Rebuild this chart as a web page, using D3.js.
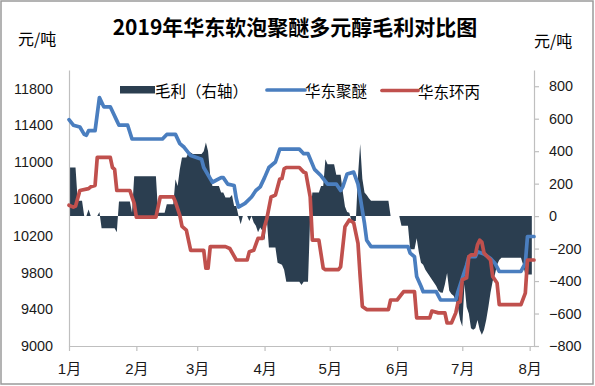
<!DOCTYPE html>
<html>
<head>
<meta charset="utf-8">
<script src="https://cdn.jsdelivr.net/npm/d3@7"></script>
<style>
  html, body { margin: 0; padding: 0; background: #fff; }
  svg { display: block; }
</style>
</head>
<body>
<div id="chart"></div>
<script>
// ---------------- data ----------------
const chartTitle = "2019年华东软泡聚醚多元醇毛利对比图";
const unitLabel = "元/吨";
const monthLabels = ["1月","2月","3月","4月","5月","6月","7月","8月"];
const monthStarts = ["01-01","02-01","03-01","04-01","05-01","06-01","07-01","08-01"];
const leftTicks = [9000, 9400, 9800, 10200, 10600, 11000, 11400, 11800];
const rightTicks = [-800, -600, -400, -200, 0, 200, 400, 600, 800];
const seriesNames = ["毛利（右轴）", "华东聚醚", "华东环丙"];

// 毛利 (right axis), [date, value]
const marginData = [
["01-01",300],["01-04",300],["01-05",95],["01-07",95],["01-08",0],["01-09",0],["01-10",40],["01-11",0],
["01-14",0],["01-15",25],["01-16",-75],["01-22",-75],["01-23",-100],["01-24",90],["01-29",90],["01-30",20],
["01-31",245],["02-10",245],["02-11",20],["02-14",20],["02-15",73],["02-18",73],["02-19",227],["02-20",186],
["02-21",289],["02-22",361],["02-24",361],["02-25",392],["02-26",392],["02-27",382],["03-03",382],["03-04",400],
["03-05",454],["03-06",400],["03-07",248],["03-08",186],["03-11",186],["03-12",145],["03-13",145],["03-14",114],
["03-16",114],["03-17",130],["03-18",63],["03-19",63],["03-20",0],["03-21",-50],["03-22",0],["03-24",0],
["03-25",-30],["03-26",0],["03-27",-40],["03-28",-60],["03-29",-100],["03-30",-70],["03-31",-90],["04-01",-150],
["04-02",-10],["04-03",-194],["04-06",-194],["04-07",-287],["04-09",-300],["04-10",-330],["04-11",-404],["04-17",-404],
["04-18",-425],["04-19",-404],["04-21",-404],["04-22",0],["04-23",145],["04-26",145],["04-27",186],["04-28",186],
["04-29",350],["04-30",320],["05-03",320],["05-04",255],["05-06",255],["05-07",150],["05-08",60],["05-09",25],
["05-10",20],["05-11",-30],["05-13",-30],["05-14",248],["05-15",444],["05-16",230],["05-17",145],["05-18",130],
["05-19",110],["05-20",94],["05-28",94],["05-29",0],["06-02",0],["06-03",-60],["06-06",-60],["06-07",-204],
["06-09",-204],["06-10",-136],["06-11",-222],["06-12",-287],["06-13",-300],["06-14",-330],["06-15",-350],["06-16",-370],
["06-17",-390],["06-18",-410],["06-19",-430],["06-20",-460],["06-21",-470],["06-22",-472],["06-23",-420],["06-24",-350],
["06-25",-460],["06-26",-480],["06-27",-490],["06-28",-520],["06-29",-560],["06-30",-640],["07-01",-680],["07-02",-420],
["07-03",-560],["07-04",-600],["07-05",-690],["07-06",-700],["07-07",-690],["07-08",-640],["07-09",-700],["07-10",-730],
["07-11",-700],["07-12",-640],["07-13",-560],["07-14",-470],["07-15",-400],["07-16",-360],["07-17",-300],["07-18",-270],
["07-19",-256],["07-28",-256],["07-29",-300],["07-30",-359],["08-02",-359]
];

// 华东聚醚 (left axis)
const polyetherData = [
["01-01",11460],["01-03",11400],["01-06",11380],["01-08",11300],["01-09",11290],["01-10",11340],["01-13",11340],
["01-15",11700],["01-17",11600],["01-20",11600],["01-23",11450],["01-24",11400],["01-28",11400],["01-30",11250],
["02-13",11250],["02-15",11300],["02-19",11300],["02-21",11200],["02-23",11160],["02-26",11070],["03-03",11030],
["03-04",10940],["03-08",10780],["03-12",10830],["03-13",10830],["03-15",10760],["03-18",10745],["03-19",10600],
["03-20",10510],["03-23",10550],["03-26",10620],["03-28",10690],["03-30",10730],["04-01",10830],["04-03",10940],
["04-06",11000],["04-08",11140],["04-17",11140],["04-19",11090],["04-21",11090],["04-24",10920],["04-27",10850],
["04-30",10760],["05-04",10760],["05-06",10690],["05-07",10730],["05-09",10870],["05-12",10890],["05-14",10760],
["05-15",10620],["05-17",10330],["05-18",10150],["05-20",10080],["06-06",10080],["06-07",10010],["06-09",9970],
["06-10",9755],["06-12",9650],["06-13",9590],["06-19",9590],["06-21",9500],["06-28",9500],["06-29",9590],
["07-03",9880],["07-04",9970],["07-07",9970],["07-08",10025],["07-11",10000],["07-14",9950],["07-16",9900],
["07-18",9810],["07-28",9810],["07-30",9900],["07-31",10190],["08-03",10190]
];

// 华东环丙 (left axis)
const propyleneOxideData = [
["01-01",10530],["01-03",10510],["01-04",10520],["01-06",10690],["01-10",10710],["01-11",10730],["01-13",10745],
["01-14",11050],["01-20",11050],["01-21",10940],["01-22",10920],["01-23",10690],["01-29",10690],["01-31",10550],
["02-01",10400],["02-10",10400],["02-12",10620],["02-18",10620],["02-19",10565],["02-21",10420],["02-22",10300],
["02-24",10260],["02-26",10040],["03-04",10040],["03-05",9845],["03-06",9845],["03-07",10080],["03-14",10080],
["03-16",10060],["03-19",9935],["03-24",9935],["03-25",10025],["03-27",10040],["03-29",10170],["03-31",10170],
["04-01",10300],["04-02",10380],["04-04",10620],["04-06",10640],["04-08",10815],["04-09",10820],["04-10",10925],
["04-11",10940],["04-17",10940],["04-19",10890],["04-20",10880],["04-22",10620],["04-23",10150],["04-26",10150],
["04-28",9845],["04-29",9830],["05-05",9830],["05-06",9860],["05-08",10295],["05-10",10370],["05-12",10340],
["05-14",10115],["05-15",9755],["05-16",9430],["05-18",9396],["05-28",9396],["05-29",9500],["06-01",9500],
["06-04",9590],["06-09",9590],["06-10",9305],["06-16",9305],["06-17",9380],["06-20",9360],["06-23",9360],
["06-24",9250],["06-26",9250],["06-28",9360],["06-29",9470],["06-30",9480],["07-01",9720],["07-03",9740],
["07-04",9970],["07-05",9990],["07-07",9990],["07-08",10100],["07-09",10150],["07-10",10130],["07-11",10010],
["07-14",9935],["07-15",9755],["07-17",9685],["07-18",9450],["07-28",9450],["07-30",9575],["07-31",9935],["08-03",9935]
];

// ---------------- drawing ----------------
const W = 595, H = 386;
const colors = { margin: "#2B3E50", polyether: "#4A7EBF", po: "#C0504D", axis: "#BFBFBF" };
const parse = d3.timeParse("%Y-%m-%d");
const toDate = s => parse("2019-" + s);

const svg = d3.select("#chart").append("svg").attr("width", W).attr("height", H);
svg.append("rect").attr("x", 0).attr("y", 0).attr("width", W).attr("height", H).attr("fill", "#fff");
svg.append("rect").attr("x", 1).attr("y", 1).attr("width", 592).attr("height", 383)
  .attr("fill", "none").attr("stroke", "#9a9a9a").attr("stroke-width", 1.5);

const plot = { left: 69, right: 534, top: 70, bottom: 346 };
const x = d3.scaleTime().domain([toDate("01-01"), toDate("08-03")]).range([plot.left, plot.right]);
const yL = d3.scaleLinear().domain([9000, 12000]).range([plot.bottom, plot.top]);
const yR = d3.scaleLinear().domain([-800, 900]).range([plot.bottom, plot.top]);

const numFont = "'Liberation Sans', Arial, 'Noto Sans CJK SC', sans-serif";
const cjkFont = "'Noto Sans CJK SC', 'Liberation Sans', sans-serif";

// area (margin)
const area = d3.area()
  .x(d => x(toDate(d[0])))
  .y0(yR(0))
  .y1(d => yR(d[1]));
svg.append("path").datum(marginData).attr("d", area).attr("fill", colors.margin);

// axes
function styleAxis(g) {
  g.select(".domain").attr("stroke", colors.axis).attr("stroke-width", 1.2);
  g.selectAll(".tick line").attr("stroke", colors.axis).attr("stroke-width", 1.2);
  g.selectAll(".tick text").attr("fill", "#1a1a1a");
}
const gL = svg.append("g").attr("transform", `translate(${plot.left},0)`)
  .call(d3.axisLeft(yL).tickValues(leftTicks).tickSize(0).tickSizeOuter(0).tickPadding(16).tickFormat(d3.format("d")));
gL.selectAll("text").attr("font-family", numFont).attr("font-size", "14.4px");
styleAxis(gL);

const gR = svg.append("g").attr("transform", `translate(${plot.right},0)`)
  .call(d3.axisRight(yR).tickValues(rightTicks).tickSize(5).tickSizeOuter(0).tickPadding(10).tickFormat(d3.format("d")));
gR.selectAll("text").attr("font-family", numFont).attr("font-size", "14.4px");
styleAxis(gR);

const gB = svg.append("g").attr("transform", `translate(0,${plot.bottom})`)
  .call(d3.axisBottom(x).tickValues(monthStarts.map(toDate)).tickSize(5).tickSizeOuter(0).tickPadding(12)
    .tickFormat((d, i) => monthLabels[i]));
gB.selectAll("text").attr("font-family", numFont).attr("font-size", "15px");
styleAxis(gB);

// lines
const line = yScale => d3.line().x(d => x(toDate(d[0]))).y(d => yScale(d[1]));
svg.append("path").datum(polyetherData).attr("d", line(yL))
  .attr("fill", "none").attr("stroke", colors.polyether).attr("stroke-width", 3.7)
  .attr("stroke-linejoin", "round").attr("stroke-linecap", "round");
svg.append("path").datum(propyleneOxideData).attr("d", line(yL))
  .attr("fill", "none").attr("stroke", colors.po).attr("stroke-width", 3.7)
  .attr("stroke-linejoin", "round").attr("stroke-linecap", "round");

// title & units
svg.append("text").attr("x", 295).attr("y", 35).attr("text-anchor", "middle")
  .attr("font-family", cjkFont).attr("font-weight", "bold").attr("font-size", "21px").attr("fill", "#000")
  .text(chartTitle);
svg.append("text").attr("x", 18).attr("y", 45).attr("font-family", cjkFont).attr("font-size", "16px")
  .attr("fill", "#000").text(unitLabel);
svg.append("text").attr("x", 534).attr("y", 47).attr("font-family", cjkFont).attr("font-size", "16px")
  .attr("fill", "#000").text(unitLabel);

// legend
const lg = svg.append("g").attr("font-family", cjkFont).attr("font-size", "15.5px").attr("fill", "#000");
lg.append("rect").attr("x", 120).attr("y", 86).attr("width", 35).attr("height", 7.5).attr("fill", colors.margin);
lg.append("text").attr("x", 155).attr("y", 90).attr("dominant-baseline", "central").text(seriesNames[0]);
lg.append("line").attr("x1", 267).attr("x2", 305).attr("y1", 90).attr("y2", 90)
  .attr("stroke", colors.polyether).attr("stroke-width", 3.7).attr("stroke-linecap", "round");
lg.append("text").attr("x", 305).attr("y", 90).attr("dominant-baseline", "central").text(seriesNames[1]);
lg.append("line").attr("x1", 382).attr("x2", 418).attr("y1", 90.5).attr("y2", 90.5)
  .attr("stroke", colors.po).attr("stroke-width", 3.7).attr("stroke-linecap", "round");
lg.append("text").attr("x", 418).attr("y", 90.5).attr("dominant-baseline", "central").text(seriesNames[2]);
</script>
</body>
</html>
